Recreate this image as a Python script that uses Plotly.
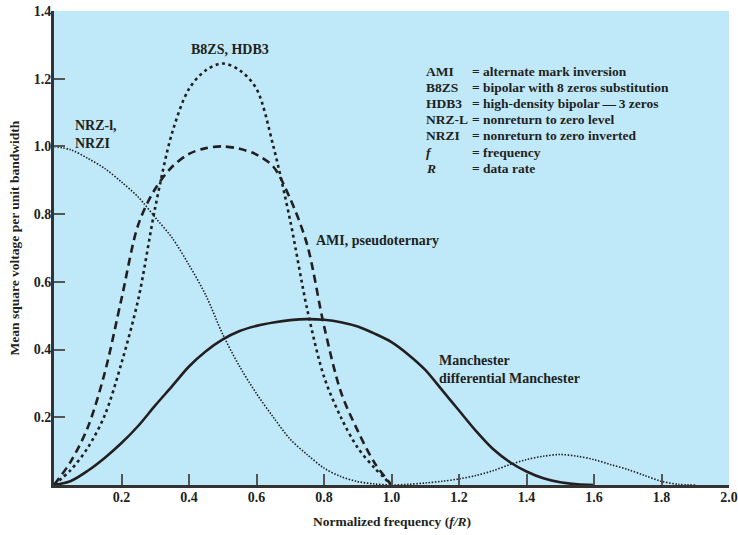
"""Spectral density of various signal encoding schemes - Plotly recreation."""

import plotly.graph_objects as go

# === Theme ===
THEME = {
    "plot_bgcolor": "#bfe9f9",
    "paper_bgcolor": "#ffffff",
    "ink": "#231f20",
    "axis_color": "#333333",
    "tick_color": "#555555",
    "font_family": "Liberation Serif, Times New Roman, serif",
}

# === Data ===
# AMI / B8ZS lobes, f/R from 0 to 1.0 in steps of 0.05
FREQ_LOBE = [0.0, 0.05, 0.1, 0.15, 0.2, 0.25, 0.3, 0.35, 0.4, 0.45, 0.5,
             0.55, 0.6, 0.65, 0.7, 0.75, 0.8, 0.85, 0.9, 0.95, 1.0]
AMI_PSD = [0.0, 0.07, 0.17, 0.33, 0.55, 0.77, 0.875, 0.94, 0.978, 0.995, 1.0,
           0.993, 0.976, 0.94, 0.845, 0.71, 0.47, 0.275, 0.16, 0.065, 0.0]
B8ZS_PSD = [0.0, 0.045, 0.11, 0.205, 0.36, 0.55, 0.82, 1.04, 1.17, 1.225, 1.245,
            1.225, 1.17, 1.0, 0.78, 0.52, 0.32, 0.2, 0.11, 0.05, 0.0]

# Manchester, f/R from 0 to 1.6
FREQ_MANCH = [0.0, 0.05, 0.1, 0.15, 0.2, 0.25, 0.3, 0.35, 0.4, 0.45, 0.5,
              0.55, 0.6, 0.65, 0.7, 0.75, 0.8, 0.85, 0.9, 0.95, 1.0,
              1.05, 1.1, 1.15, 1.2, 1.25, 1.3, 1.35, 1.4, 1.45, 1.5, 1.55, 1.6]
MANCH_PSD = [0.0, 0.012, 0.042, 0.08, 0.124, 0.175, 0.235, 0.292, 0.35, 0.395, 0.43,
             0.455, 0.47, 0.48, 0.487, 0.49, 0.488, 0.481, 0.468, 0.447, 0.422,
             0.385, 0.34, 0.28, 0.22, 0.16, 0.107, 0.068, 0.04, 0.02, 0.008, 0.002, 0.0]

# NRZ-L / NRZI, f/R from 0 to 1.9
FREQ_NRZ = [0.0, 0.05, 0.1, 0.15, 0.2, 0.25, 0.3, 0.35, 0.4, 0.45, 0.5,
            0.55, 0.6, 0.65, 0.7, 0.75, 0.8, 0.85, 0.9, 0.95, 1.0,
            1.05, 1.1, 1.15, 1.2, 1.25, 1.3, 1.35, 1.4, 1.45, 1.5,
            1.55, 1.6, 1.65, 1.7, 1.75, 1.8, 1.85, 1.9]
NRZ_PSD = [1.0, 0.99, 0.965, 0.935, 0.895, 0.85, 0.79, 0.73, 0.65, 0.56, 0.445,
           0.35, 0.27, 0.2, 0.135, 0.09, 0.05, 0.025, 0.01, 0.003, 0.0,
           0.002, 0.006, 0.011, 0.018, 0.028, 0.042, 0.06, 0.075, 0.085, 0.09,
           0.085, 0.075, 0.06, 0.046, 0.028, 0.011, 0.002, 0.0]

X_TICKS = [0.2, 0.4, 0.6, 0.8, 1.0, 1.2, 1.4, 1.6, 1.8, 2.0]
Y_TICKS = [0.2, 0.4, 0.6, 0.8, 1.0, 1.2, 1.4]

KEY_ABBR = ["AMI", "B8ZS", "HDB3", "NRZ-L", "NRZI", "<i>f</i>", "<i>R</i>"]
KEY_TEXT = [
    "= alternate mark inversion",
    "= bipolar with 8 zeros substitution",
    "= high-density bipolar\u2009\u2014\u20093 zeros",
    "= nonreturn to zero level",
    "= nonreturn to zero inverted",
    "= frequency",
    "= data rate",
]


def bold_font(size):
    return dict(family=THEME["font_family"], size=size, color=THEME["ink"], weight="bold")


fig = go.Figure()

# (x, y, width, dash)
curves = [
    (FREQ_NRZ, NRZ_PSD, 1.6, "1.5px,1.6px"),
    (FREQ_MANCH, MANCH_PSD, 2.6, "solid"),
    (FREQ_LOBE, AMI_PSD, 2.6, "8px,5px"),
    (FREQ_LOBE, B8ZS_PSD, 2.6, "3px,3.5px"),
]
for xs, ys, width, dash in curves:
    fig.add_trace(go.Scatter(
        x=xs,
        y=ys,
        mode="lines",
        line=dict(color=THEME["ink"], width=width, dash=dash, shape="spline", smoothing=0.9),
        hoverinfo="skip",
        cliponaxis=False,
    ))

# curve labels
fig.add_annotation(x=0.521, y=1.286, text="B8ZS, HDB3", xanchor="center")
fig.add_annotation(x=0.056, y=1.034, text="NRZ-l,<br>NRZI", xanchor="left", align="left")
fig.add_annotation(x=0.77, y=0.722, text="AMI, pseudoternary", xanchor="left")
fig.add_annotation(x=1.135, y=0.342, text="Manchester<br>differential Manchester",
                   xanchor="left", align="left")

# abbreviation key
for i, (abbr, desc) in enumerate(zip(KEY_ABBR, KEY_TEXT)):
    y = 1.221 - i * 0.0475
    fig.add_annotation(x=1.096, y=y, text=abbr, xanchor="left", font=bold_font(13.5))
    fig.add_annotation(x=1.233, y=y, text=desc, xanchor="left", font=bold_font(13.5))

fig.update_annotations(showarrow=False, yanchor="middle", xref="x", yref="y")

# axis titles
fig.add_annotation(
    x=-0.058, y=0.522, xref="paper", yref="paper", showarrow=False,
    text="Mean square voltage per unit bandwidth", textangle=-90,
    xanchor="center", yanchor="middle", font=bold_font(13.5),
)
fig.add_annotation(
    x=0.5, y=-0.078, xref="paper", yref="paper", showarrow=False,
    text="Normalized frequency (<i>f/R</i>)",
    xanchor="center", yanchor="middle", font=bold_font(13.5),
)

axis_common = dict(
    showgrid=False,
    zeroline=False,
    showline=True,
    linecolor=THEME["axis_color"],
    linewidth=3,
    ticks="inside",
    ticklen=11,
    tickwidth=1.5,
    tickcolor=THEME["tick_color"],
    tickfont=bold_font(14),
    tickformat=".1f",
    ticklabelstandoff=-3,
    ticklabeloverflow="allow",
    automargin=False,
)

fig.update_layout(
    width=738,
    height=535,
    showlegend=False,
    plot_bgcolor=THEME["plot_bgcolor"],
    paper_bgcolor=THEME["paper_bgcolor"],
    font=bold_font(14),
    margin=dict(t=11, b=50, l=54, r=9),
    xaxis=dict(range=[0, 2.0], tickvals=X_TICKS, **axis_common),
    yaxis=dict(range=[0, 1.4], tickvals=Y_TICKS, **axis_common),
)

# drop the default 8px page margin so the figure sits at the window corner
fig.write_html(
    "out.html",
    config={"displayModeBar": False},
    post_script="document.body.style.margin = '0';",
)
